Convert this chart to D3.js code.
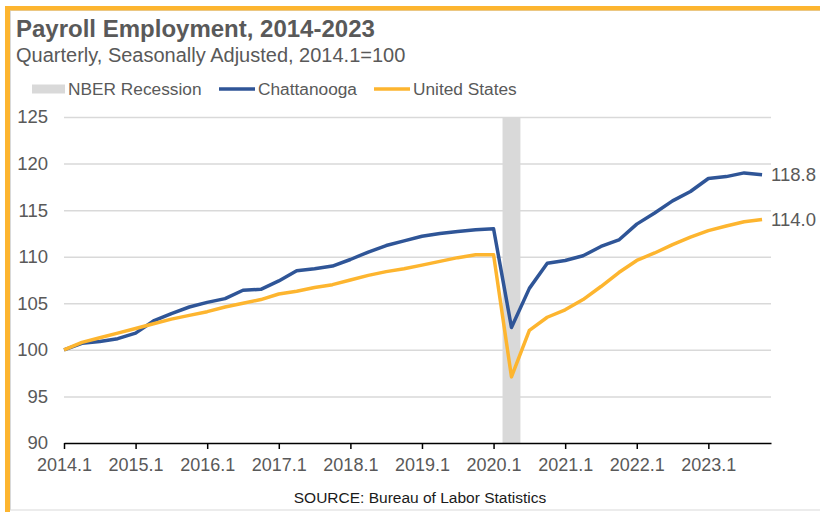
<!DOCTYPE html>
<html>
<head>
<meta charset="utf-8">
<script src="https://cdn.jsdelivr.net/npm/d3@7"></script>
<style>
  html, body { margin: 0; padding: 0; background: #fff; }
  #chart { width: 820px; height: 512px; }
</style>
</head>
<body>
<div id="chart"></div>
<script>
// quarters 2014.1 .. 2023.4
const quarters = d3.range(2014, 2024).flatMap((yr) => [1, 2, 3, 4].map((q) => `${yr}.${q}`));

const chattanooga = [
  100.0, 100.7, 100.9, 101.2, 101.8, 103.1, 103.9, 104.6,
  105.1, 105.5, 106.4, 106.5, 107.4, 108.5, 108.7, 109.0,
  109.7, 110.5, 111.2, 111.7, 112.2, 112.5, 112.7, 112.9,
  113.0, 102.4, 106.6, 109.3, 109.6, 110.1, 111.1, 111.8,
  113.5, 114.7, 116.0, 117.0, 118.4, 118.6, 119.0, 118.8
];

const unitedStates = [
  100.0, 100.8, 101.3, 101.8, 102.3, 102.8, 103.3, 103.7,
  104.1, 104.6, 105.0, 105.4, 106.0, 106.3, 106.7, 107.0,
  107.5, 108.0, 108.4, 108.7, 109.1, 109.5, 109.9, 110.2,
  110.2, 97.1, 102.1, 103.5, 104.3, 105.4, 106.8, 108.3,
  109.6, 110.4, 111.3, 112.1, 112.8, 113.3, 113.75, 114.0
];

const recessionQuarters = ["2020.2"];
const yTicks = [90, 95, 100, 105, 110, 115, 120, 125];
const xTickLabels = ["2014.1", "2015.1", "2016.1", "2017.1", "2018.1", "2019.1", "2020.1", "2021.1", "2022.1", "2023.1"];

const series = [
  { name: "Chattanooga", values: chattanooga, color: "#2F5597", label: "118.8" },
  { name: "United States", values: unitedStates, color: "#FDB52F", label: "114.0" }
];

const fullWidth = 820;
const fullHeight = 512;
const margin = { top: 117, right: 49, bottom: 69, left: 64 };
const width = fullWidth - margin.left - margin.right;
const height = fullHeight - margin.top - margin.bottom;
const textColor = "#595959";
const font = "'Liberation Sans', Arial, sans-serif";

const svg = d3.select("#chart")
  .append("svg")
  .attr("width", fullWidth)
  .attr("height", fullHeight)
  .style("font-family", font);

// === Frame ===
svg.append("rect")
  .attr("x", 10.5).attr("y", 10.5)
  .attr("width", fullWidth + 10).attr("height", 499.5)
  .attr("fill", "none")
  .attr("stroke", "#d9d9d9")
  .attr("stroke-width", 1);

svg.append("rect")
  .attr("x", 5).attr("y", 6)
  .attr("width", fullWidth).attr("height", 4.5)
  .attr("fill", "#FDB52F");

svg.append("rect")
  .attr("x", 5).attr("y", 6)
  .attr("width", 5).attr("height", fullHeight)
  .attr("fill", "#FDB52F");

const chart = svg.append("g")
  .attr("transform", `translate(${margin.left},${margin.top})`);

const x = d3.scaleLinear()
  .domain([0, 39.5])
  .range([0, width]);

const y = d3.scaleLinear()
  .domain([90, 125])
  .range([height, 0]);

// === Gridlines ===
chart.append("g")
  .call(d3.axisLeft(y).tickValues(yTicks.slice(1)).tickSize(-width).tickFormat(""))
  .call((g) => g.select(".domain").remove())
  .selectAll("line")
  .attr("stroke", "#d9d9d9")
  .attr("stroke-width", 1.5);

// === Recession band ===
chart.selectAll(".recession")
  .data(recessionQuarters)
  .enter()
  .append("rect")
  .attr("class", "recession")
  .attr("x", (d) => x(quarters.indexOf(d) - 0.5))
  .attr("width", (d) => x(quarters.indexOf(d) + 0.5) - x(quarters.indexOf(d) - 0.5))
  .attr("y", y(125))
  .attr("height", y(90) - y(125))
  .attr("fill", "#d9d9d9");

// === Lines ===
const line = d3.line()
  .x((d, i) => x(i))
  .y((d) => y(d));

chart.selectAll(".series")
  .data(series)
  .enter()
  .append("path")
  .attr("class", "series")
  .attr("d", (d) => line(d.values))
  .attr("fill", "none")
  .attr("stroke", (d) => d.color)
  .attr("stroke-width", 3.5)
  .attr("stroke-linejoin", "round");

// end labels
chart.selectAll(".end-label")
  .data(series)
  .enter()
  .append("text")
  .attr("class", "end-label")
  .attr("x", x(quarters.length - 1) + 9)
  .attr("y", (d) => y(d.values[d.values.length - 1]))
  .attr("dy", "0.35em")
  .style("fill", textColor)
  .style("font-size", "18.5px")
  .text((d) => d.label);

// === Axes ===
const xAxis = chart.append("g")
  .attr("transform", `translate(0, ${height})`)
  .call(d3.axisBottom(x)
    .tickValues(xTickLabels.map((t) => quarters.indexOf(t)))
    .tickFormat((i) => quarters[i])
    .tickSizeInner(6)
    .tickSizeOuter(0)
    .tickPadding(9));

xAxis.select(".domain").attr("stroke", "#000").attr("stroke-width", 1.5);
xAxis.selectAll(".tick line").attr("stroke", "#000").attr("stroke-width", 1.5);
xAxis.selectAll("text")
  .style("fill", textColor)
  .style("font-size", "18px")
  .style("font-family", font);

const yAxis = chart.append("g")
  .call(d3.axisLeft(y).tickValues(yTicks).tickSize(0).tickPadding(16));

yAxis.select(".domain").remove();
yAxis.selectAll("text")
  .style("fill", textColor)
  .style("font-size", "18.5px")
  .style("font-family", font);

// === Title ===
svg.append("text")
  .attr("x", 16)
  .attr("y", 37)
  .style("font-size", "24px")
  .style("font-weight", "bold")
  .style("fill", textColor)
  .text("Payroll Employment, 2014-2023");

svg.append("text")
  .attr("x", 16)
  .attr("y", 62)
  .style("font-size", "20px")
  .style("fill", textColor)
  .text("Quarterly, Seasonally Adjusted, 2014.1=100");

// === Legend ===
const legend = svg.append("g").attr("transform", "translate(0, 89)");

legend.append("rect")
  .attr("x", 32).attr("y", -4.5)
  .attr("width", 33).attr("height", 9)
  .attr("fill", "#d9d9d9");
legend.append("text")
  .attr("x", 68).attr("dy", "0.35em")
  .style("font-size", "17.3px").style("fill", textColor)
  .text("NBER Recession");

const legendX = [219, 374];
series.forEach((s, i) => {
  legend.append("line")
    .attr("x1", legendX[i]).attr("x2", legendX[i] + 36)
    .attr("stroke", s.color)
    .attr("stroke-width", 3.5);
  legend.append("text")
    .attr("x", legendX[i] + 39).attr("dy", "0.35em")
    .style("font-size", "17.3px").style("fill", textColor)
    .text(s.name);
});

// === Source ===
svg.append("text")
  .attr("x", 420)
  .attr("y", 503)
  .attr("text-anchor", "middle")
  .style("font-size", "15.5px")
  .style("fill", "#1a1a1a")
  .text("SOURCE: Bureau of Labor Statistics");
</script>
</body>
</html>
